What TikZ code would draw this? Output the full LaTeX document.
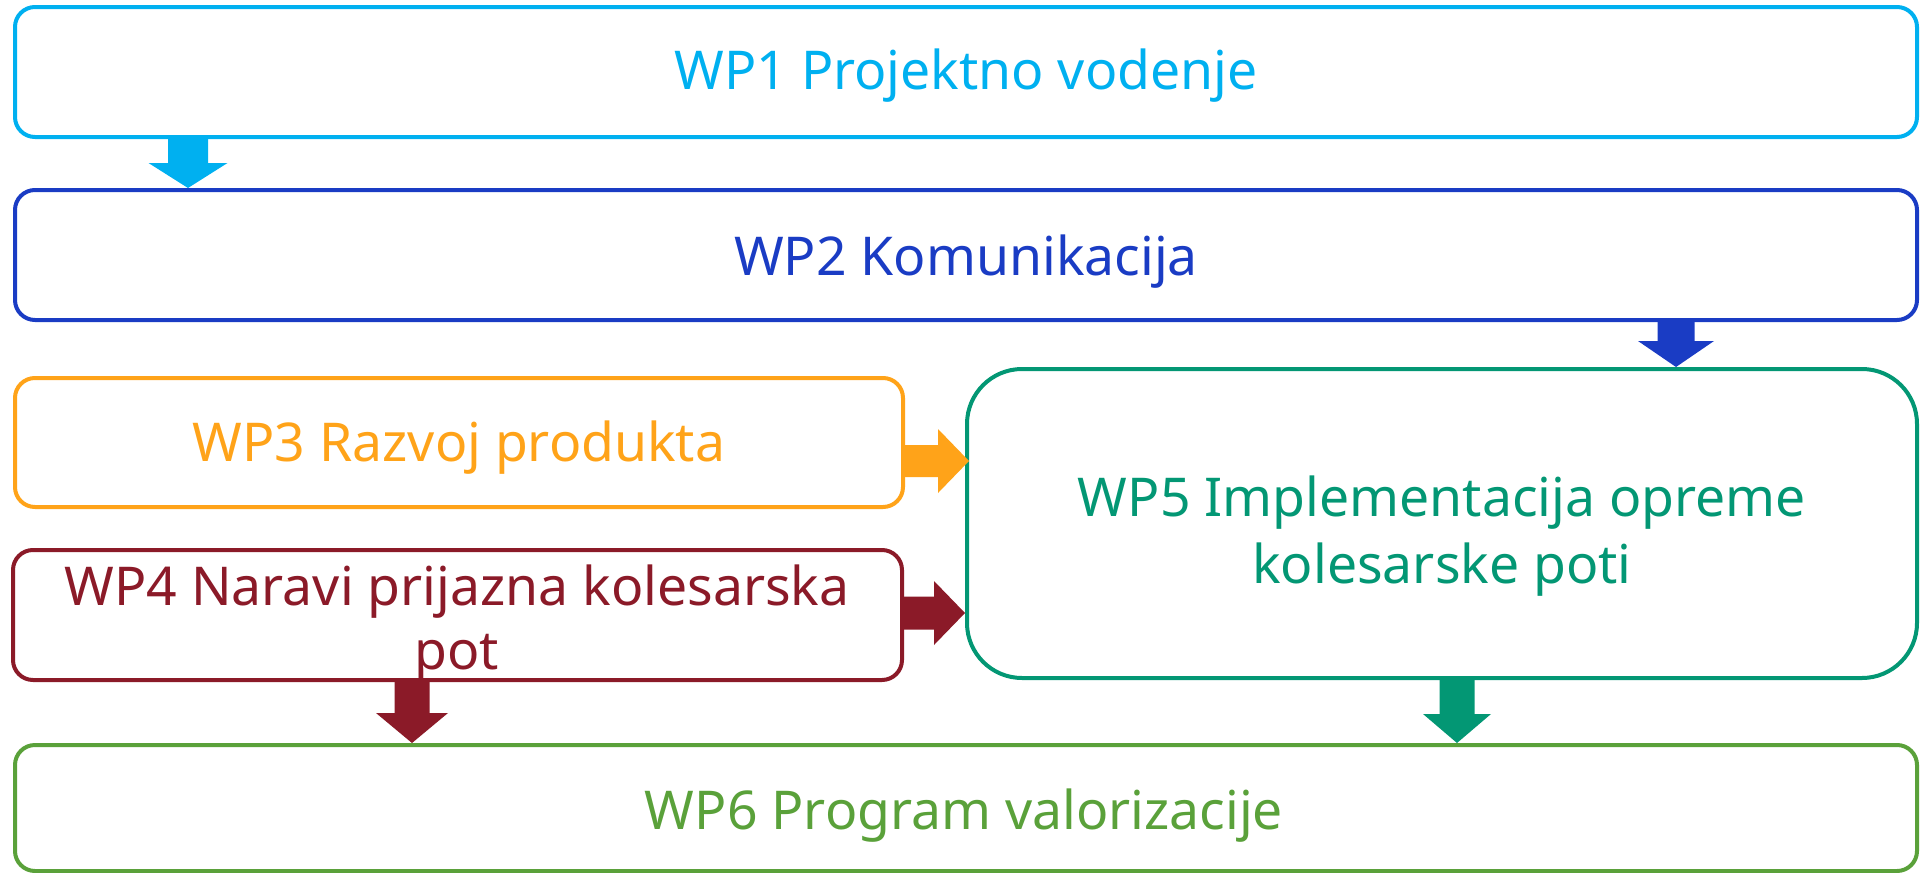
\documentclass[tikz,border=0pt]{standalone}
\usepackage{fontspec}
\setmainfont{Noto Sans}
\usetikzlibrary{calc}
\definecolor{cWPa}{HTML}{00B0F0}
\definecolor{cWPb}{HTML}{1A3CC4}
\definecolor{cWPc}{HTML}{FFA319}
\definecolor{cWPd}{HTML}{8B1A28}
\definecolor{cWPe}{HTML}{039774}
\definecolor{cWPf}{HTML}{5AA13A}
\newcommand\downblock[6]{%
  \fill[#1] let \p1=(#2), \p2=(#3) in
    (\x1-#4,\y1) -- (\x1+#4,\y1) -- (\x1+#4,\y2+#6) -- (\x1+#5,\y2+#6) --
    (\x1,\y2) -- (\x1-#5,\y2+#6) -- (\x1-#4,\y2+#6) -- cycle;}
\newcommand\rightblock[6]{%
  \fill[#1] let \p1=(#2), \p2=(#3) in
    (\x1,\y1-#4) -- (\x1,\y1+#4) -- (\x2-#6,\y1+#4) -- (\x2-#6,\y1+#5) --
    (\x2,\y1) -- (\x2-#6,\y1-#5) -- (\x2-#6,\y1-#4) -- cycle;}
\tikzset{
  wpbox/.style={draw=#1, line width=4pt, rounded corners=20pt, inner sep=0pt},
  wptext/.style={text=#1, font=\fontsize{53.5}{64}\selectfont, align=center, inner sep=0pt},
}
\begin{document}
\begin{tikzpicture}[x=1pt,y=-1pt]
\useasboundingbox (0,0) rectangle (1923,873);
% boxes
\node[wpbox=cWPa, minimum width=1902pt, minimum height=130pt] (n1) at (966,72) {};
\node[wpbox=cWPb, minimum width=1902pt, minimum height=130pt] (n2) at (966,255) {};
\node[wpbox=cWPc, minimum width=888pt, minimum height=129pt] (n3) at (459,442.5) {};
\node[wpbox=cWPd, minimum width=889pt, minimum height=130pt] (n4) at (457.5,615) {};
\node[wpbox=cWPe, rounded corners=55pt, minimum width=950pt, minimum height=309pt] (n5) at (1442,523.5) {};
\node[wpbox=cWPf, minimum width=1902pt, minimum height=126pt] (n6) at (966,808) {};
% texts
\node[wptext=cWPa] (t1) at (966,76) {WP1 Projektno vodenje};
\node[wptext=cWPb] (t2) at (966,262) {WP2 Komunikacija};
\node[wptext=cWPc] (t3) at (459,448) {WP3 Razvoj produkta};
\node[wptext=cWPd] (t4) at (457,624) {WP4 Naravi prijazna kolesarska\\pot};
\node[wptext=cWPe, font=\fontsize{53.5}{67}\selectfont] (t5) at (1442,536) {WP5 Implementacija opreme\\kolesarske poti};
\node[wptext=cWPf] (t6) at (964,816) {WP6 Program valorizacije};
% arrow axes
\coordinate (xa) at (188,0);
\coordinate (xb) at (1676,0);
\coordinate (ya) at (0,461);
\coordinate (yb) at (0,613);
\coordinate (xc) at (412,0);
\coordinate (xd) at (1457,0);
\coordinate (xe) at (969,0);
% block arrows
\downblock{cWPa}{n1.south -| xa}{n2.north -| xa}{20pt}{39.5pt}{25pt}
\downblock{cWPb}{n2.south -| xb}{n5.north -| xb}{18.5pt}{38pt}{26pt}
\rightblock{cWPc}{n3.east |- ya}{xe |- ya}{16pt}{32pt}{31pt}
\rightblock{cWPd}{n4.east |- yb}{n5.west |- yb}{16.5pt}{32pt}{31pt}
\downblock{cWPd}{n4.south -| xc}{n6.north -| xc}{17.5pt}{36pt}{30pt}
\downblock{cWPe}{n5.south -| xd}{n6.north -| xd}{17.5pt}{34pt}{29pt}
\end{tikzpicture}
\end{document}
